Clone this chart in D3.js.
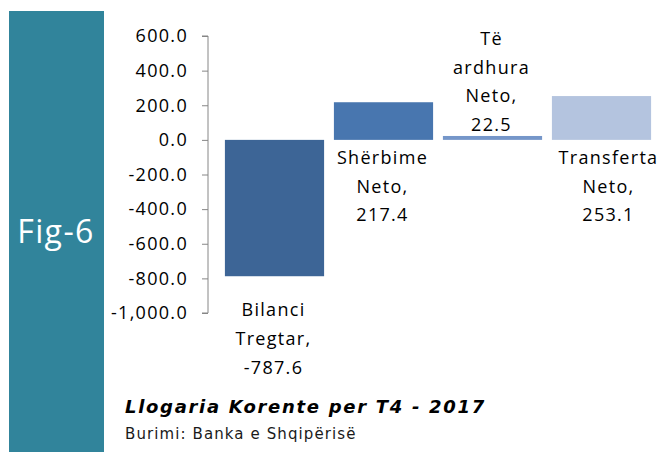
<!DOCTYPE html>
<html>
<head>
<meta charset="utf-8">
<script src="https://cdn.jsdelivr.net/npm/d3@7"></script>
<style>
  html, body { margin: 0; padding: 0; background: #fff; }
  svg { display: block; }
</style>
</head>
<body>
<svg id="chart" width="661" height="452"></svg>
<script>
// ---- data ----
const categories = ["Bilanci Tregtar", "Shërbime Neto", "Të ardhura Neto", "Transferta Neto"];
const labelLines = [["Bilanci", "Tregtar,"], ["Shërbime", "Neto,"], ["Të", "ardhura", "Neto,"], ["Transferta", "Neto,"]];
const values = [-787.6, 217.4, 22.5, 253.1];
const barColors = ["#3D6596", "#4876AF", "#7596C9", "#B4C4DF"];
const tickValues = [600, 400, 200, 0, -200, -400, -600, -800, -1000];
const titleText = "Llogaria Korente per T4 - 2017";
const sourceText = "Burimi: Banka e Shqipërisë";
const figText = "Fig-6";

// ---- layout ----
const svg = d3.select("#chart");
const loc = d3.formatLocale({ decimal: ".", thousands: ",", grouping: [3], currency: ["", ""], minus: "-" });

// side panel
svg.append("rect").attr("x", 9).attr("y", 11).attr("width", 95).attr("height", 441).attr("fill", "#31849B");
svg.append("text").attr("x", 56).attr("y", 243).attr("text-anchor", "middle")
  .attr("font-family", "Open Sans, sans-serif").attr("font-size", 32).attr("letter-spacing", "1.4px")
  .attr("fill", "#fff").text(figText);

const y = d3.scaleLinear().domain([-1000, 600]).range([313, 36]);
const x = d3.scaleBand().domain(categories).range([220, 656]).paddingInner(0.09).paddingOuter(0.045);

// axis
const axis = d3.axisLeft(y).tickValues(tickValues).tickSize(6).tickPadding(14)
  .tickFormat(loc.format(",.1f"));
const gAxis = svg.append("g").attr("transform", "translate(208,0)").call(axis);
gAxis.select(".domain").attr("stroke", "#868686").attr("d", `M-6,${y(600)}H0V${y(-1000)}H-6`);
gAxis.selectAll(".tick line").attr("stroke", "#868686");
gAxis.selectAll(".tick text").attr("font-family", "Open Sans, sans-serif").attr("font-size", 18)
  .attr("letter-spacing", "1.3px").attr("fill", "#000");

// bars
svg.append("g").selectAll("rect").data(values).join("rect")
  .attr("x", (d, i) => x(categories[i]))
  .attr("width", x.bandwidth())
  .attr("y", d => y(Math.max(0, d)))
  .attr("height", d => Math.abs(y(d) - y(0)))
  .attr("fill", (d, i) => barColors[i]);

// data labels
const fmt = loc.format(".1f");
const lineH = 28.7;
const lab = svg.append("g").attr("font-family", "Open Sans, sans-serif").attr("font-size", 18)
  .attr("letter-spacing", "1.3px").attr("fill", "#000").attr("text-anchor", "middle");
values.forEach((v, i) => {
  const lines = labelLines[i].concat([fmt(v)]);
  const cx = x(categories[i]) + x.bandwidth() / 2 + (i === 3 ? 7 : -1);
  let firstBase;
  if (v < -100) firstBase = y(v) + 40;
  else if (i === 2) firstBase = y(v) - 5 - lineH * (lines.length - 1);
  else firstBase = y(0) + 24;
  lines.forEach((t, k) => {
    lab.append("text").attr("x", cx).attr("y", firstBase + k * lineH).text(t);
  });
});

// title & source
svg.append("text").attr("x", 125).attr("y", 413)
  .attr("font-family", "DejaVu Sans, sans-serif").attr("font-size", 18).attr("font-weight", "bold")
  .attr("font-style", "italic").attr("letter-spacing", "1.7px").attr("fill", "#000").text(titleText);
svg.append("text").attr("x", 125).attr("y", 439)
  .attr("font-family", "DejaVu Sans, sans-serif").attr("font-size", 15)
  .attr("letter-spacing", "1.1px").attr("fill", "#1a1a1a").text(sourceText);
</script>
</body>
</html>
